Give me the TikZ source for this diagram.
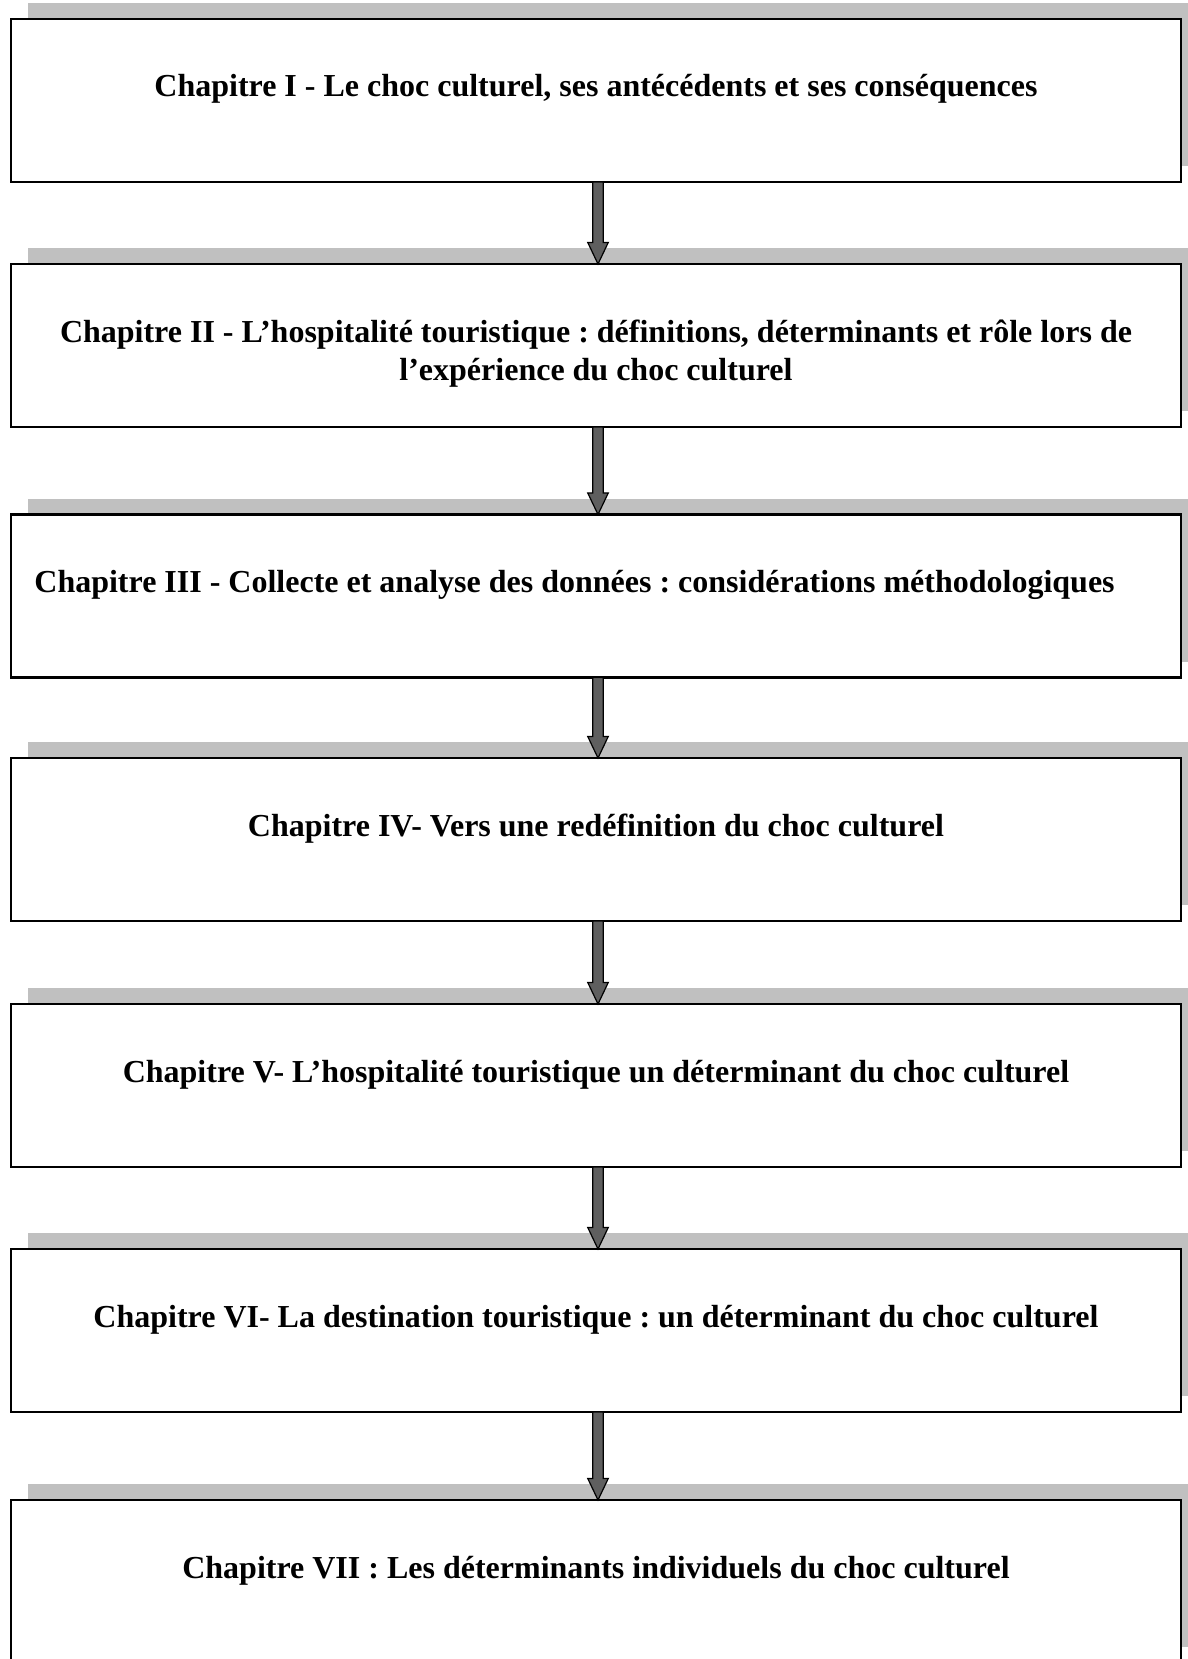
\documentclass[tikz,border=0pt]{standalone}
\usepackage{fontspec}
\setmainfont{Liberation Serif}
\usetikzlibrary{calc,shadows}
\frenchspacing
\definecolor{shadowgray}{HTML}{C0C0C0}
\definecolor{arrowgray}{HTML}{5F5F5F}
\newcommand\fatarrow[2]{%
  \draw[fatarrow] ($(#1.south)+(-3.3,0)$) -- ($(#2.north)+(-3.3,-21.6)$) -- ($(#2.north)+(-8.3,-21.6)$) -- ($(#2.north)+(2,0)$) -- ($(#2.north)+(12.3,-21.6)$) -- ($(#2.north)+(7.3,-21.6)$) -- ($(#1.south)+(7.3,0)$) -- cycle;}
\begin{document}
\frenchspacing
\begin{tikzpicture}[x=0.5pt,y=-0.5pt,
  box/.style={draw=black, line width=1.2pt, fill=white, minimum width=585pt, minimum height=81.5pt, inner sep=0pt, outer sep=0pt,
    drop shadow={shadow xshift=8.5pt, shadow yshift=8pt, fill=shadowgray, opacity=1}},
  title/.style={font=\fontsize{16}{19}\selectfont\bfseries\frenchspacing, inner sep=0pt, anchor=base, align=center},
  fatarrow/.style={draw=black, line width=0.6pt, fill=arrowgray, line join=miter}]
\useasboundingbox (0,0) rectangle (1188,1659);
\clip (0,0) rectangle (1188,1659);
\node[box] (b1) at (596,100.5) {};
\node[box] (b2) at (596,345.5) {};
\node[box] (b3) at (596,596) {};
\node[box] (b4) at (596,839.5) {};
\node[box] (b5) at (596,1085.5) {};
\node[box] (b6) at (596,1330.5) {};
\node[box] (b7) at (596,1581.5) {};
\node[title] (t1) at ($(b1.north)+(0,78)$) {Chapitre I - Le choc culturel, ses antécédents et ses conséquences};
\node[title] (t2) at ($(b2.north)+(0,116)$) {Chapitre II - L’hospitalité touristique : définitions, déterminants et rôle lors de\\l’expérience du choc culturel};
\node[title, anchor=base west] (t3) at ($(b3.north west)+(23,78)$) {Chapitre III - Collecte et analyse des données : considérations méthodologiques};
\node[title] (t4) at ($(b4.north)+(0,78)$) {Chapitre IV- Vers une redéfinition du choc culturel};
\node[title] (t5) at ($(b5.north)+(0,78)$) {Chapitre V- L’hospitalité touristique un déterminant du choc culturel};
\node[title] (t6) at ($(b6.north)+(0,78)$) {Chapitre VI- La destination touristique : un déterminant du choc culturel};
\node[title] (t7) at ($(b7.north)+(0,78)$) {Chapitre VII : Les déterminants individuels du choc culturel};
\fatarrow{b1}{b2}
\fatarrow{b2}{b3}
\fatarrow{b3}{b4}
\fatarrow{b4}{b5}
\fatarrow{b5}{b6}
\fatarrow{b6}{b7}
\end{tikzpicture}
\end{document}
